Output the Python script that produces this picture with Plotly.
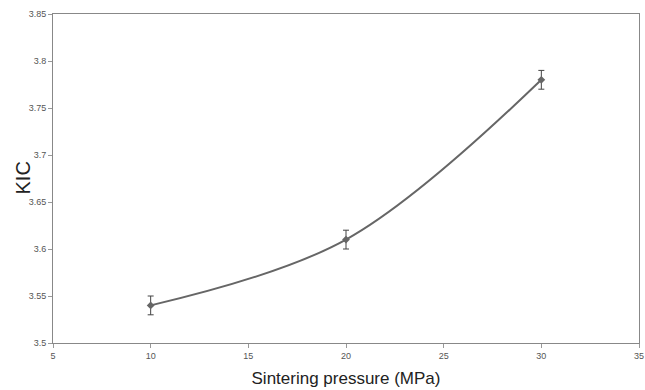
import plotly.graph_objects as go

pressure = [10, 20, 30]
kic = [3.54, 3.61, 3.78]
err = [0.01, 0.01, 0.01]

fig = go.Figure()
fig.add_trace(go.Scatter(
    x=pressure, y=kic, mode="lines+markers",
    line=dict(color="#666666", width=2, shape="spline", smoothing=1),
    marker=dict(symbol="diamond", size=6, color="#666666"),
    error_y=dict(type="data", array=err, visible=True, color="#444444", thickness=1, width=3),
    showlegend=False,
))

fig.update_layout(
    width=645, height=390,
    margin=dict(l=53, r=6, t=14, b=47, autoexpand=False),
    paper_bgcolor="white", plot_bgcolor="white",
    font=dict(family="Liberation Sans, Arial, sans-serif", color="#555555"),
    annotations=[dict(
        text="KIC", textangle=-90, xref="paper", yref="paper",
        x=(22 - 53) / 586, y=0.5, xanchor="center", yanchor="middle",
        showarrow=False, font=dict(size=20, color="#222222"),
    )],
)
fig.update_xaxes(
    range=[5, 35], dtick=5, tickmode="linear", tick0=5,
    showgrid=False, zeroline=False, automargin=False,
    showline=True, linecolor="#888888", linewidth=1, mirror=True,
    ticks="outside", ticklen=4, tickcolor="#999999",
    tickfont=dict(size=9, color="#555555"),
    ticklabeloverflow="allow",
    title=dict(text="Sintering pressure (MPa)", font=dict(size=17, color="#222222"), standoff=12),
)
fig.update_yaxes(
    range=[3.5, 3.85], dtick=0.05, tickmode="linear", tick0=3.5,
    showgrid=False, zeroline=False, automargin=False,
    showline=True, linecolor="#888888", linewidth=1, mirror=True,
    ticks="outside", ticklen=4, tickcolor="#999999",
    tickfont=dict(size=9, color="#555555"),
)
fig.write_html("out.html")
